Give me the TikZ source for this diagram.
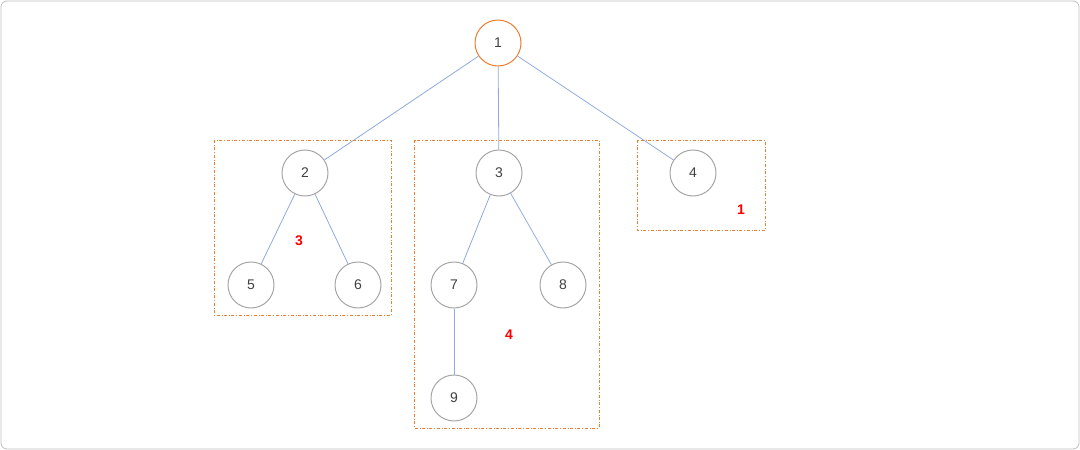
\documentclass[tikz,border=0pt]{standalone}
\usepackage{fontspec}
\setmainfont{Liberation Sans}
\begin{document}
\begin{tikzpicture}[x=1pt,y=-1pt,
  nd/.style={circle,draw=gray!70,line width=1pt,minimum size=46pt,inner sep=0pt,font=\fontsize{14}{16}\selectfont,text=black!75},
  root/.style={nd,draw=orange1},
  ed/.style={draw=blue1,line width=0.8pt},
  grp/.style={draw=orange1,dash dot,line width=0.8pt},
  lab/.style={text=red,font=\bfseries\fontsize{14}{16}\selectfont}]
\definecolor{orange1}{RGB}{237,125,49}
\definecolor{blue1}{RGB}{143,170,220}
\useasboundingbox (0,0) rectangle (1080,450);
\draw[gray!50,line width=0.8pt,rounded corners=6pt] (1,1) rectangle (1079,449);
\node[root] (n1) at (498,43) {1};
\node[nd] (n2) at (305,173) {2};
\node[nd] (n3) at (499,173) {3};
\node[nd] (n4) at (693,173) {4};
\node[nd] (n5) at (251,285) {5};
\node[nd] (n6) at (358,285) {6};
\node[nd] (n7) at (454,285) {7};
\node[nd] (n8) at (563,285) {8};
\node[nd] (n9) at (454,398) {9};
\draw[ed] (n1)--(n2); \draw[ed] (n1)--(n3); \draw[ed] (n1)--(n4);
\draw[ed] (n2)--(n5); \draw[ed] (n2)--(n6);
\draw[ed] (n3)--(n7); \draw[ed] (n3)--(n8); \draw[ed] (n7)--(n9);
\draw[grp] (214,140) rectangle (391,315);
\draw[grp] (414,140) rectangle (599,428);
\draw[grp] (637,140) rectangle (765,230);
\node[lab] (l3) at (299,241) {3};
\node[lab] (l4) at (509,335) {4};
\node[lab] (l1) at (741,210) {1};
\end{tikzpicture}
\end{document}
